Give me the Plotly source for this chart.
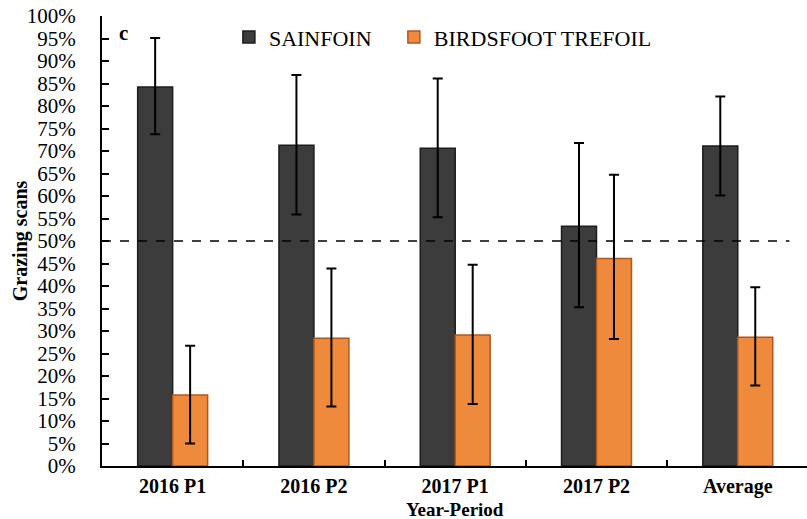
import plotly.graph_objects as go

categories = ["2016 P1", "2016 P2", "2017 P1", "2017 P2", "Average"]
sainfoin = [84.2, 71.3, 70.6, 53.3, 71.1]
sainfoin_err_hi = [95.1, 86.9, 86.1, 71.8, 82.1]
sainfoin_err_lo = [73.7, 55.9, 55.3, 35.3, 60.1]
trefoil = [15.8, 28.4, 29.1, 46.1, 28.6]
trefoil_err_hi = [26.7, 43.9, 44.7, 64.7, 39.7]
trefoil_err_lo = [5.0, 13.2, 13.8, 28.2, 17.9]
ref_line = 50
y_ticks = list(range(0, 101, 5))
y_tick_labels = [f"{v}%" for v in y_ticks]

FONT = "Liberation Serif, Times New Roman, serif"

def err(vals, hi, lo):
    return dict(type="data", symmetric=False,
                array=[h - v for h, v in zip(hi, vals)],
                arrayminus=[v - l for v, l in zip(vals, lo)],
                color="black", thickness=2, width=5)

fig = go.Figure()
fig.add_trace(go.Bar(
    name="SAINFOIN", x=categories, y=sainfoin, legend="legend",
    marker=dict(color="#3c3c3c", line=dict(color="#1c1c1c", width=1.5)),
    error_y=err(sainfoin, sainfoin_err_hi, sainfoin_err_lo),
))
fig.add_trace(go.Bar(
    name="BIRDSFOOT TREFOIL", x=categories, y=trefoil, legend="legend2",
    marker=dict(color="#ef8a3d", line=dict(color="#b0581c", width=1.5)),
    error_y=err(trefoil, trefoil_err_hi, trefoil_err_lo),
))

fig.add_shape(type="line", xref="paper", yref="y", x0=0, x1=0.975,
              y0=ref_line, y1=ref_line,
              line=dict(color="black", width=1.3, dash="dash"))

fig.add_annotation(text="<b>c</b>", xref="paper", yref="paper",
                   x=0.03, y=0.962, xanchor="center", yanchor="middle", showarrow=False,
                   font=dict(family=FONT, size=21, color="black"))
fig.add_annotation(text="<b>Year-Period</b>", xref="paper", yref="paper",
                   x=0.5, y=-0.0965, xanchor="center", yanchor="middle", showarrow=False,
                   font=dict(family=FONT, size=19, color="black"))
fig.add_annotation(text="<b>Grazing scans</b>", xref="paper", yref="paper",
                   x=-0.116, y=0.5, xanchor="center", yanchor="middle", textangle=-90,
                   showarrow=False, font=dict(family=FONT, size=20, color="black"))

leg_common = dict(orientation="h", xanchor="left", yanchor="middle", y=0.953,
                  font=dict(family=FONT, size=22, color="black"),
                  bgcolor="rgba(0,0,0,0)")

fig.update_layout(
    width=807, height=519,
    margin=dict(l=102, r=0, t=16, b=53),
    paper_bgcolor="white", plot_bgcolor="white",
    font=dict(family=FONT, color="black"),
    barmode="group", bargap=0.505, bargroupgap=0,
    showlegend=True,
    legend=dict(x=0.180, **leg_common),
    legend2=dict(x=0.414, **leg_common),
    xaxis=dict(
        range=[-0.5, 4.49], showline=True, linecolor="black", linewidth=2,
        ticks="inside", tickson="boundaries", ticklen=6, tickcolor="black", tickwidth=2,
        tickfont=dict(family=FONT, size=20, color="black"),
        tickvals=categories, ticktext=[f"<b>{c}</b>" for c in categories],
        ticklabelstandoff=1,
        showgrid=False, zeroline=False,
    ),
    yaxis=dict(
        range=[0, 100], showline=True, linecolor="black", linewidth=2,
        ticks="inside", ticklen=7, tickcolor="black", tickwidth=1.5,
        tickvals=y_ticks, ticktext=y_tick_labels,
        tickfont=dict(family=FONT, size=21, color="black"),
        ticklabelstandoff=20,
        showgrid=False, zeroline=False,
    ),
)

fig.write_html("out.html", config={"displayModeBar": False},
               post_script="document.body.style.margin='0';")
